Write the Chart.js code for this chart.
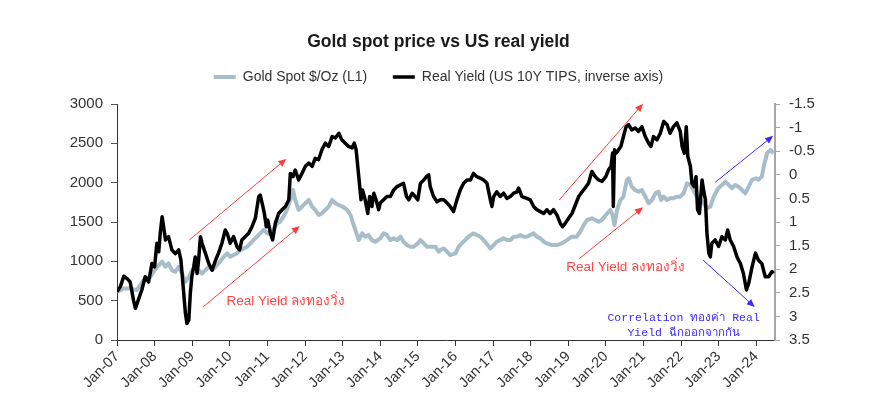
<!DOCTYPE html>
<html>
<head>
<meta charset="utf-8">
<script src="https://cdn.jsdelivr.net/npm/chart.js@4"></script>
<style>
  html, body { margin: 0; padding: 0; background: #fff; }
  #wrap { width: 877px; height: 411px; }
</style>
</head>
<body>
<div id="wrap"><canvas id="chart"></canvas></div>
<script>
// gold spot, $/oz (left axis)
const goldYears = [
  2007.00, 2007.18, 2007.35, 2007.53, 2007.71, 2007.89, 2008.00, 2008.11, 2008.20, 2008.29,
  2008.37, 2008.46, 2008.55, 2008.64, 2008.73, 2008.82, 2008.91, 2009.00, 2009.08, 2009.17,
  2009.26, 2009.35, 2009.44, 2009.53, 2009.62, 2009.70, 2009.84, 2009.93, 2010.01, 2010.10,
  2010.19, 2010.28, 2010.37, 2010.46, 2010.55, 2010.63, 2010.72, 2010.81, 2010.90, 2011.01,
  2011.08, 2011.17, 2011.26, 2011.34, 2011.43, 2011.52, 2011.61, 2011.68, 2011.74, 2011.83,
  2011.92, 2012.01, 2012.10, 2012.19, 2012.27, 2012.36, 2012.45, 2012.54, 2012.63, 2012.72,
  2012.81, 2012.90, 2013.00, 2013.12, 2013.21, 2013.34, 2013.43, 2013.52, 2013.60, 2013.69,
  2013.78, 2013.87, 2014.00, 2014.09, 2014.18, 2014.27, 2014.36, 2014.45, 2014.54, 2014.62,
  2014.71, 2014.80, 2014.89, 2015.00, 2015.07, 2015.16, 2015.24, 2015.33, 2015.47, 2015.55,
  2015.60, 2015.69, 2015.78, 2015.86, 2016.00, 2016.09, 2016.17, 2016.26, 2016.35, 2016.48,
  2016.57, 2016.66, 2016.79, 2016.93, 2017.02, 2017.10, 2017.19, 2017.28, 2017.37, 2017.46,
  2017.55, 2017.64, 2017.73, 2017.81, 2017.90, 2017.99, 2018.08, 2018.17, 2018.26, 2018.35,
  2018.43, 2018.57, 2018.70, 2018.83, 2018.97, 2019.10, 2019.23, 2019.32, 2019.41, 2019.50,
  2019.63, 2019.72, 2019.81, 2019.90, 2020.00, 2020.12, 2020.18, 2020.23, 2020.30, 2020.39,
  2020.47, 2020.56, 2020.61, 2020.69, 2020.78, 2020.87, 2020.96, 2021.05, 2021.14, 2021.23,
  2021.32, 2021.40, 2021.47, 2021.54, 2021.63, 2021.71, 2021.80, 2021.89, 2021.98, 2022.07,
  2022.16, 2022.25, 2022.33, 2022.42, 2022.51, 2022.60, 2022.69, 2022.78, 2022.87, 2022.99,
  2023.09, 2023.18, 2023.27, 2023.36, 2023.44, 2023.53, 2023.62, 2023.71, 2023.80, 2023.89,
  2024.00, 2024.06, 2024.15, 2024.20, 2024.29, 2024.38, 2024.46
];
const goldPrice = [
  612, 655, 655, 634, 761, 804, 888, 952, 995, 931,
  973, 888, 867, 931, 846, 740, 803, 888, 931, 888,
  846, 888, 931, 888, 931, 973, 1058, 1101, 1058, 1080,
  1101, 1143, 1164, 1186, 1228, 1270, 1313, 1355, 1398, 1355,
  1355, 1419, 1483, 1504, 1568, 1653, 1780, 1907, 1780, 1653,
  1695, 1738, 1780, 1695, 1653, 1589, 1610, 1653, 1695, 1780,
  1738, 1716, 1695, 1653, 1589, 1398, 1270, 1355, 1313, 1334,
  1270, 1249, 1292, 1355, 1334, 1270, 1292, 1270, 1313, 1249,
  1207, 1186, 1186, 1228, 1270, 1228, 1186, 1186, 1186, 1122,
  1143, 1164, 1122, 1080, 1101, 1186, 1228, 1270, 1313, 1355,
  1334, 1313, 1249, 1164, 1207, 1249, 1270, 1292, 1270, 1270,
  1313, 1313, 1334, 1313, 1313, 1334, 1355, 1313, 1292, 1249,
  1228, 1207, 1207, 1228, 1270, 1313, 1313, 1377, 1461, 1525,
  1547, 1525, 1504, 1525, 1589, 1653, 1589, 1462, 1653, 1780,
  1822, 2035, 2056, 1950, 1907, 1886, 1907, 1822, 1738, 1780,
  1865, 1886, 1780, 1822, 1780, 1801, 1801, 1822, 1822, 1865,
  1992, 1971, 1907, 1822, 1780, 1738, 1674, 1695, 1822, 1929,
  1971, 2013, 1971, 1929, 1971, 1950, 1907, 1865, 1950, 2035,
  2056, 2035, 2077, 2205, 2374, 2417, 2374
];

// US 10Y TIPS real yield, % (right axis, inverted)
const yieldYears = [
  2007.00, 2007.09, 2007.18, 2007.27, 2007.35, 2007.44, 2007.49, 2007.58, 2007.66, 2007.75,
  2007.84, 2007.93, 2008.00, 2008.06, 2008.11, 2008.15, 2008.20, 2008.24, 2008.29, 2008.37,
  2008.46, 2008.55, 2008.64, 2008.70, 2008.76, 2008.82, 2008.86, 2008.91, 2008.95, 2008.99,
  2009.04, 2009.08, 2009.13, 2009.17, 2009.22, 2009.26, 2009.35, 2009.44, 2009.53, 2009.62,
  2009.70, 2009.79, 2009.88, 2009.93, 2010.01, 2010.10, 2010.19, 2010.26, 2010.32, 2010.41,
  2010.50, 2010.59, 2010.68, 2010.77, 2010.81, 2010.86, 2010.92, 2010.97, 2011.01, 2011.08,
  2011.14, 2011.21, 2011.30, 2011.39, 2011.48, 2011.57, 2011.61, 2011.68, 2011.74, 2011.83,
  2011.92, 2012.01, 2012.10, 2012.19, 2012.27, 2012.36, 2012.45, 2012.54, 2012.63, 2012.72,
  2012.81, 2012.90, 2012.98, 2013.07, 2013.16, 2013.25, 2013.31, 2013.36, 2013.43, 2013.49,
  2013.53, 2013.60, 2013.67, 2013.72, 2013.78, 2013.83, 2013.89, 2013.96, 2014.00, 2014.09,
  2014.18, 2014.27, 2014.36, 2014.45, 2014.54, 2014.62, 2014.70, 2014.76, 2014.85, 2014.93,
  2015.00, 2015.07, 2015.16, 2015.23, 2015.29, 2015.33, 2015.42, 2015.51, 2015.60, 2015.69,
  2015.78, 2015.86, 2015.95, 2016.04, 2016.13, 2016.22, 2016.31, 2016.40, 2016.48, 2016.57,
  2016.66, 2016.75, 2016.84, 2016.93, 2016.97, 2017.02, 2017.10, 2017.19, 2017.28, 2017.37,
  2017.46, 2017.55, 2017.64, 2017.68, 2017.77, 2017.90, 2017.99, 2018.08, 2018.17, 2018.26,
  2018.35, 2018.43, 2018.52, 2018.61, 2018.70, 2018.79, 2018.85, 2018.92, 2019.01, 2019.10,
  2019.19, 2019.28, 2019.37, 2019.45, 2019.54, 2019.63, 2019.72, 2019.81, 2019.90, 2020.00,
  2020.07, 2020.14, 2020.18, 2020.20, 2020.23, 2020.28, 2020.34, 2020.40, 2020.47, 2020.54,
  2020.61, 2020.69, 2020.78, 2020.87, 2020.96, 2021.05, 2021.14, 2021.20, 2021.27, 2021.36,
  2021.45, 2021.54, 2021.63, 2021.71, 2021.80, 2021.89, 2021.98, 2022.03, 2022.09, 2022.14,
  2022.18, 2022.25, 2022.29, 2022.35, 2022.40, 2022.44, 2022.49, 2022.56, 2022.60, 2022.65,
  2022.69, 2022.74, 2022.78, 2022.82, 2022.91, 2023.00, 2023.09, 2023.18, 2023.24, 2023.31,
  2023.40, 2023.49, 2023.58, 2023.66, 2023.74, 2023.80, 2023.89, 2023.98, 2024.06, 2024.15,
  2024.24, 2024.33, 2024.42, 2024.46
];
const realYield = [
  2.48, 2.37, 2.15, 2.20, 2.27, 2.66, 2.83, 2.62, 2.44, 2.16,
  2.27, 1.88, 1.95, 1.45, 1.63, 1.24, 0.89, 1.10, 1.38, 1.31,
  1.59, 1.67, 1.59, 1.81, 2.37, 2.94, 3.15, 3.08, 2.51, 2.16,
  1.95, 1.74, 2.09, 1.81, 1.31, 1.45, 1.66, 1.88, 2.02, 1.81,
  1.66, 1.45, 1.17, 1.24, 1.45, 1.31, 1.52, 1.59, 1.38, 1.31,
  1.24, 1.10, 0.92, 0.46, 0.43, 0.60, 0.82, 1.10, 0.96, 1.24,
  1.38, 1.03, 0.82, 0.74, 0.67, 0.53, -0.03, 0.04, -0.10, 0.11,
  -0.03, -0.18, -0.25, -0.18, -0.35, -0.32, -0.53, -0.67, -0.60, -0.81,
  -0.78, -0.88, -0.74, -0.67, -0.60, -0.57, -0.67, -0.53, 0.04, 0.53,
  0.32, 0.53, 0.82, 0.46, 0.67, 0.39, 0.53, 0.74, 0.60, 0.53,
  0.46, 0.46, 0.32, 0.25, 0.21, 0.18, 0.46, 0.53, 0.39, 0.46,
  0.53, 0.18, 0.11, 0.04, 0.00, 0.25, 0.46, 0.57, 0.53, 0.53,
  0.60, 0.67, 0.78, 0.53, 0.32, 0.18, 0.11, 0.11, -0.03, 0.04,
  0.07, 0.11, 0.18, 0.53, 0.67, 0.46, 0.36, 0.46, 0.39, 0.50,
  0.46, 0.39, 0.36, 0.28, 0.46, 0.50, 0.53, 0.67, 0.74, 0.78,
  0.82, 0.74, 0.82, 0.74, 0.85, 1.03, 1.10, 1.03, 0.92, 0.82,
  0.64, 0.46, 0.36, 0.28, 0.18, -0.07, 0.04, 0.11, 0.14, 0.04,
  -0.10, -0.18, -0.46, 0.67, -0.53, -0.46, -0.53, -0.60, -0.81, -1.02,
  -1.06, -0.95, -0.99, -0.92, -1.02, -0.81, -0.67, -0.60, -0.81, -0.74,
  -0.88, -1.13, -1.06, -0.88, -1.02, -1.10, -0.92, -0.60, -0.46, -1.02,
  -0.39, -0.18, 0.18, 0.25, 0.04, 0.74, 0.82, 0.11, 0.32, 0.53,
  1.24, 1.66, 1.74, 1.45, 1.38, 1.52, 1.31, 1.38, 1.17, 1.38,
  1.52, 1.74, 1.88, 2.09, 2.44, 2.30, 1.95, 1.66, 1.81, 1.88,
  2.16, 2.16, 2.05, 2.09
];

// axis ticks
const goldTicks = [0, 500, 1000, 1500, 2000, 2500, 3000];
const yieldTicks = [-1.5, -1, -0.5, 0, 0.5, 1, 1.5, 2, 2.5, 3, 3.5];
const yearTicks = [2007, 2008, 2009, 2010, 2011, 2012, 2013, 2014, 2015, 2016, 2017, 2018, 2019, 2020, 2021, 2022, 2023, 2024];

// annotation arrows, in data units: [year0, gold0, year1, gold1, colour]
const arrows = [
  [2008.92, 1270, 2011.50, 2302, "#ff3b3b"],
  [2009.29, 420, 2011.86, 1448, "#ff3b3b"],
  [2018.76, 1780, 2020.99, 3003, "#ff3b3b"],
  [2019.30, 1037, 2020.99, 1687, "#ff3b3b"],
  [2022.91, 2005, 2024.45, 2595, "#3b2bff"],
  [2022.59, 1015, 2023.96, 420, "#3b2bff"]
];
// annotation texts: [year, gold, text, colour, align, font]
const notes = [
  [2009.91, 490, "Real Yield ลงทองวิ่ง", "#ff4444", "left", "13.5px 'Liberation Sans', sans-serif"],
  [2018.95, 930, "Real Yield ลงทองวิ่ง", "#ff4444", "left", "13.5px 'Liberation Sans', sans-serif"],
  [2022.07, 280, "Correlation ทองค่า Real", "#3b2bff", "center", "11.5px 'Liberation Mono', monospace"],
  [2022.07, 87, "Yield ฉีกออกจากกัน", "#3b2bff", "center", "11.5px 'Liberation Mono', monospace"]
];

const FONT = "'Liberation Sans', Arial, sans-serif";

// legend a bit taller so the plot starts lower
const legendGap = {
  id: "legendGap",
  beforeInit(chart) {
    const fit = chart.legend.fit;
    chart.legend.fit = function () {
      fit.call(this);
      this.height += 10;
    };
  }
};

// arrows and texts
const notesPlugin = {
  id: "notes",
  afterDatasetsDraw(chart) {
    const ctx = chart.ctx;
    const x = chart.scales.x;
    const y = chart.scales.y;
    ctx.save();
    arrows.forEach(a => {
      const x0 = x.getPixelForValue(a[0]), y0 = y.getPixelForValue(a[1]);
      const x1 = x.getPixelForValue(a[2]), y1 = y.getPixelForValue(a[3]);
      const ang = Math.atan2(y1 - y0, x1 - x0);
      const head = 8;
      ctx.strokeStyle = a[4];
      ctx.fillStyle = a[4];
      ctx.lineWidth = 1;
      ctx.beginPath();
      ctx.moveTo(x0, y0);
      ctx.lineTo(x1 - Math.cos(ang) * head * 0.8, y1 - Math.sin(ang) * head * 0.8);
      ctx.stroke();
      ctx.beginPath();
      ctx.moveTo(x1, y1);
      ctx.lineTo(x1 - head * Math.cos(ang) + 3.5 * Math.sin(ang), y1 - head * Math.sin(ang) - 3.5 * Math.cos(ang));
      ctx.lineTo(x1 - head * Math.cos(ang) - 3.5 * Math.sin(ang), y1 - head * Math.sin(ang) + 3.5 * Math.cos(ang));
      ctx.closePath();
      ctx.fill();
    });
    notes.forEach(n => {
      ctx.font = n[5];
      ctx.fillStyle = n[3];
      ctx.textAlign = n[4];
      ctx.textBaseline = "middle";
      ctx.fillText(n[2], x.getPixelForValue(n[0]), y.getPixelForValue(n[1]));
    });
    ctx.restore();
  }
};

new Chart(document.getElementById("chart"), {
  type: "line",
  data: {
    datasets: [
      {
        label: "Gold Spot $/Oz (L1)\u00a0\u00a0\u00a0\u00a0",
        data: goldYears.map((t, i) => ({ x: t, y: goldPrice[i] })),
        yAxisID: "y",
        borderColor: "#a7bdca",
        backgroundColor: "#a7bdca",
        borderWidth: 4,
        borderJoinStyle: "round",
        pointRadius: 0,
        tension: 0,
        order: 1
      },
      {
        label: "Real Yield (US 10Y TIPS, inverse axis)",
        data: yieldYears.map((t, i) => ({ x: t, y: realYield[i] })),
        yAxisID: "y1",
        borderColor: "#000000",
        backgroundColor: "#000000",
        borderWidth: 3.5,
        borderJoinStyle: "round",
        pointRadius: 0,
        tension: 0,
        order: 0
      }
    ]
  },
  options: {
    responsive: true,
    maintainAspectRatio: false,
    animation: false,
    layout: { padding: 0 },
    plugins: {
      title: {
        display: true,
        text: "Gold spot price vs US real yield",
        color: "#1a1a1a",
        font: { family: FONT, size: 17.5, weight: "bold" },
        padding: { top: 32, bottom: 7 }
      },
      legend: {
        display: true,
        labels: {
          usePointStyle: true,
          pointStyle: "line",
          pointStyleWidth: 22,
          padding: 10,
          color: "#333333",
          font: { family: FONT, size: 14 },
          sort: (a, b) => a.datasetIndex - b.datasetIndex
        }
      },
      tooltip: { enabled: false }
    },
    scales: {
      x: {
        type: "linear",
        min: yearTicks[0],
        max: 2024.5,
        afterFit: s => { s.height = 71; },
        afterBuildTicks: s => { s.ticks = yearTicks.map(v => ({ value: v })); },
        ticks: {
          autoSkip: false,
          maxRotation: 45,
          minRotation: 45,
          padding: 2,
          color: "#333333",
          font: { family: FONT, size: 14.5 },
          callback: v => "Jan-" + String(v % 100).padStart(2, "0")
        },
        grid: { drawOnChartArea: false, tickLength: 6, color: "#333333" },
        border: { color: "#333333", width: 1 }
      },
      y: {
        position: "left",
        min: goldTicks[0],
        max: goldTicks[goldTicks.length - 1],
        afterFit: s => { s.width = 117; },
        afterBuildTicks: s => { s.ticks = goldTicks.map(v => ({ value: v })); },
        ticks: {
          padding: 8,
          color: "#333333",
          font: { family: FONT, size: 15 },
          callback: v => String(v)
        },
        grid: { drawOnChartArea: false, tickLength: 6, color: "#555555" },
        border: { color: "#333333", width: 1 }
      },
      y1: {
        position: "right",
        reverse: true,
        min: yieldTicks[0],
        max: yieldTicks[yieldTicks.length - 1],
        afterFit: s => { s.width = 102; },
        afterBuildTicks: s => { s.ticks = yieldTicks.map(v => ({ value: v })); },
        ticks: {
          padding: 9,
          color: "#333333",
          font: { family: FONT, size: 15 },
          callback: v => String(v)
        },
        grid: { drawOnChartArea: false, tickLength: 5, color: "#a6a6a6" },
        border: { color: "#a6a6a6", width: 2 }
      }
    }
  },
  plugins: [legendGap, notesPlugin]
});
</script>
</body>
</html>
